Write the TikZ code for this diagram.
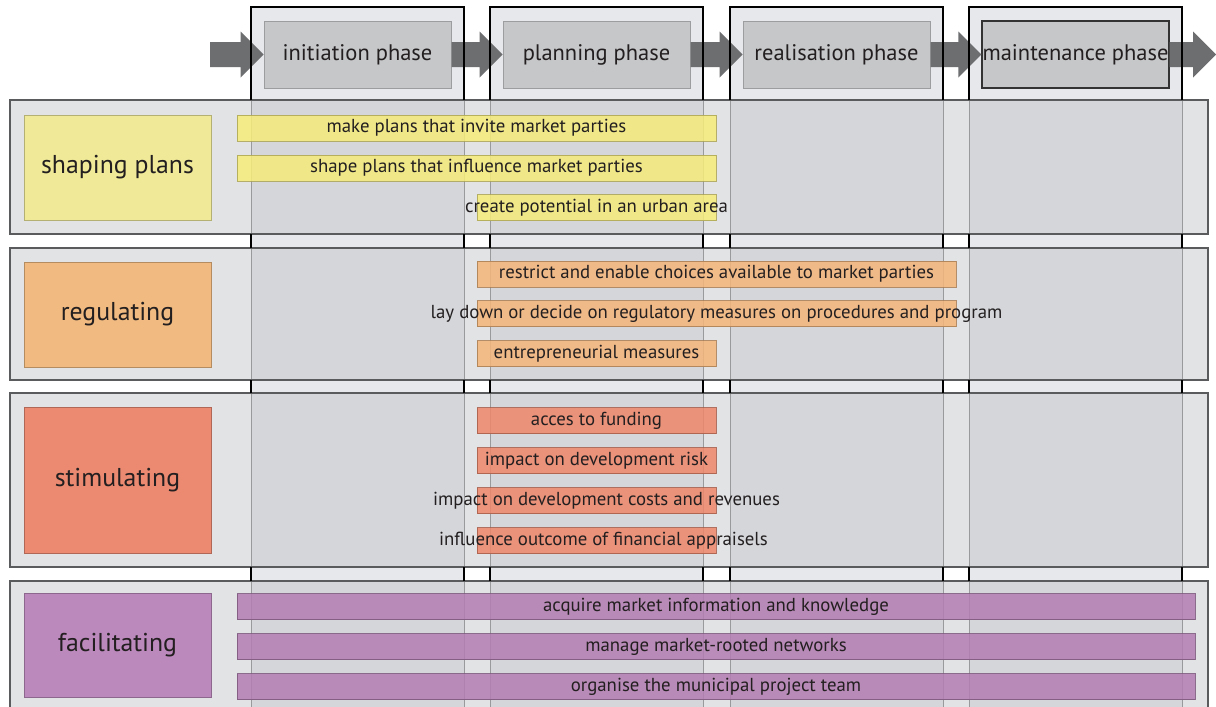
\documentclass[tikz,border=0pt]{standalone}
\usepackage{fontspec}
\setmainfont{PT Sans}
\usetikzlibrary{calc}

\definecolor{txt}{HTML}{231F20}
\definecolor{colfill}{HTML}{E7E8EB}
\definecolor{coledge}{HTML}{808080}
\definecolor{rowfill}{HTML}{BCBEC3}
\definecolor{rowline}{HTML}{5A5B5D}
\definecolor{phfill}{HTML}{C6C7C9}
\definecolor{phline}{HTML}{9C9D9F}
\definecolor{arrowfill}{HTML}{6D6E70}
\definecolor{ylab}{HTML}{F0EA98}
\definecolor{ybar}{HTML}{F6EC7A}
\definecolor{olab}{HTML}{F1BA80}
\definecolor{obar}{HTML}{F5B67A}
\definecolor{slab}{HTML}{EC8A71}
\definecolor{sbar}{HTML}{EF876A}
\definecolor{plab}{HTML}{BC89BD}
\definecolor{pbar}{HTML}{B47DB2}

\tikzset{
  column/.style={fill=colfill, draw=coledge, line width=1pt},
  columnedge/.style={draw=black, line width=1.1pt},
  rowband/.style={fill=rowfill, fill opacity=0.42, draw=rowline, draw opacity=1, line width=1.3pt},
  labelbox/.style={minimum width=187pt, inner sep=0pt, fill=#1, draw=#1!75!black,
    line width=0.8pt, font=\fontsize{25.8}{30}\selectfont, text=txt},
  phasebox/.style={minimum width=187pt, minimum height=67pt, inner sep=0pt, fill=phfill,
    draw=phline, line width=1pt, font=\fontsize{22.5}{26}\selectfont, text=txt},
  actbar/.style={minimum height=26pt, inner sep=0pt, fill=#1, draw=#1!70!black,
    fill opacity=0.85, draw opacity=0.85, line width=0.6pt},
  bartext/.style={font=\fontsize{18.8}{22}\selectfont, text=txt, inner sep=0pt},
  phasearrow/.style={fill=arrowfill, draw=none},
}

% block arrow from one anchor to another (shaft, then head ending at the target)
\newcommand\phasearrow[2]{%
  \fill[phasearrow] let \p1=(#1), \p2=(#2) in
    (\x1,\y1-12.5pt) -- (\x2-23pt,\y1-12.5pt) -- (\x2-23pt,\y1-23pt) -- (\x2,\y1)
    -- (\x2-23pt,\y1+23pt) -- (\x2-23pt,\y1+12.5pt) -- (\x1,\y1+12.5pt) -- cycle;}

\begin{document}
\begin{tikzpicture}[x=1pt,y=-1pt]
\useasboundingbox (0,0) rectangle (1216,707);
\clip (0,0) rectangle (1216,707);
\fill[white] (0,0) rectangle (1216,707);

% phase columns
\foreach \x in {251,490,730,969}
  \draw[column] (\x,7) rectangle ++(213,740);

% phase headers
\node[phasebox] (p1) at (357.5,54.5) {initiation phase};
\node[phasebox] (p2) at (596.5,54.5) {planning phase};
\node[phasebox] (p3) at (836.5,54.5) {realisation phase};
\node[phasebox, draw=black!80, line width=1.3pt] (p4) at (1075.5,54.5) {maintenance phase};

\coordinate (start) at (210,54.5);
\coordinate (finish) at (1216,54.5);
\phasearrow{start}{p1.west}
\phasearrow{p1.east}{p2.west}
\phasearrow{p2.east}{p3.west}
\phasearrow{p3.east}{p4.west}
\phasearrow{p4.east}{finish}

% instrument rows
\draw[rowband] (10,100) rectangle (1208,234);
\draw[rowband] (10,248) rectangle (1208,380);
\draw[rowband] (10,393) rectangle (1208,567);
\draw[rowband] (10,581) rectangle (1208,740);

% column edges where no row covers them
\foreach \x in {251,490,730,969} {
  \draw[columnedge] (\x,100) -- (\x,7) -- (\x+213,7) -- (\x+213,100);
  \foreach \ya/\yb in {234/248, 380/393, 567/581} {
    \draw[columnedge] (\x,\ya) -- (\x,\yb);
    \draw[columnedge] (\x+213,\ya) -- (\x+213,\yb);
  }
}

% row labels
\node[labelbox=ylab, minimum height=105pt] (lshape) at (117.5,167.5) {shaping plans};
\node[labelbox=olab, minimum height=105pt] (lreg) at (117.5,314.5) {regulating};
\node[labelbox=slab, minimum height=146pt] (lstim) at (117.5,480) {stimulating};
\node[labelbox=plab, minimum height=104pt] (lfac) at (117.5,645) {facilitating};

% shaping plans
\node[actbar=ybar, minimum width=479pt] (y1) at (476.5,128) {};
\node[actbar=ybar, minimum width=479pt] (y2) at (476.5,168) {};
\node[actbar=ybar, minimum width=239pt] (y3) at (596.5,207.5) {};
\node[bartext] (y1t) at (y1) {make plans that invite market parties};
\node[bartext] (y2t) at (y2) {shape plans that influence market parties};
\node[bartext] (y3t) at (y3) {create potential in an urban area};

% regulating
\node[actbar=obar, minimum width=479pt] (o1) at (716.5,274) {};
\node[actbar=obar, minimum width=479pt] (o2) at (716.5,313.5) {};
\node[actbar=obar, minimum width=239pt] (o3) at (596.5,353.5) {};
\node[bartext] (o1t) at (o1) {restrict and enable choices available to market parties};
\node[bartext] (o2t) at (o2) {lay down or decide on regulatory measures on procedures and program};
\node[bartext] (o3t) at (o3) {entrepreneurial measures};

% stimulating
\node[actbar=sbar, minimum width=239pt] (s1) at (596.5,420.5) {};
\node[actbar=sbar, minimum width=239pt] (s2) at (596.5,460.5) {};
\node[actbar=sbar, minimum width=239pt] (s3) at (596.5,500.5) {};
\node[actbar=sbar, minimum width=239pt] (s4) at (596.5,540.5) {};
\node[bartext] (s1t) at (s1) {acces to funding};
\node[bartext] (s2t) at (s2) {impact on development risk};
\node[bartext] (s3t) at ($(s3)+(10,0)$) {impact on development costs and revenues};
\node[bartext] (s4t) at ($(s4)+(7,0)$) {influence outcome of financial appraisels};

% facilitating
\node[actbar=pbar, minimum width=958pt] (f1) at (716,606.5) {};
\node[actbar=pbar, minimum width=958pt] (f2) at (716,646.5) {};
\node[actbar=pbar, minimum width=958pt] (f3) at (716,686.5) {};
\node[bartext] (f1t) at (f1) {acquire market information and knowledge};
\node[bartext] (f2t) at (f2) {manage market-rooted networks};
\node[bartext] (f3t) at (f3) {organise the municipal project team};
\end{tikzpicture}
\end{document}
